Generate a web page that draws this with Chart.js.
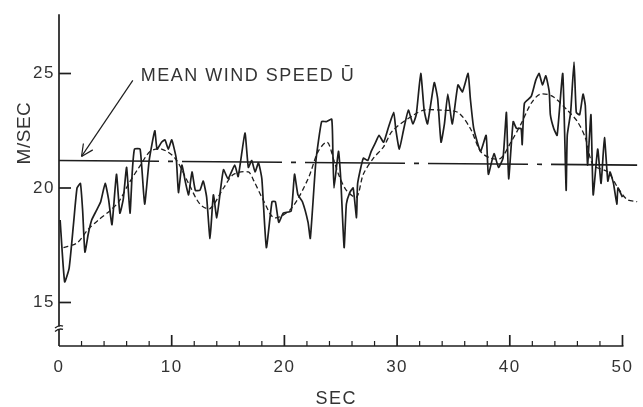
<!DOCTYPE html>
<html><head><meta charset="utf-8">
<script src="https://cdn.jsdelivr.net/npm/chart.js@4.4.1/dist/chart.umd.min.js"></script>
<style>html,body{margin:0;padding:0;background:#fff;}#wrap{width:643px;height:407px;}</style>
</head><body><div id="wrap"><canvas id="c" width="643" height="407"></canvas></div>
<script>
// Measured wind speed (solid line)
const windTime = [0.1,0.5,0.9,1.3,1.6,1.9,2.1,2.3,2.6,2.9,3.3,3.7,4.1,4.4,4.7,5.1,5.4,5.7,6.0,6.3,6.5,6.7,7.2,7.6,8.0,8.5,8.7,9.1,9.4,9.7,10.0,10.4,10.6,10.9,11.2,11.5,11.8,12.1,12.5,12.8,13.1,13.4,13.7,14.0,14.3,14.6,15.0,15.6,15.9,16.5,16.8,17.1,17.4,17.7,18.0,18.4,18.9,19.2,19.5,19.9,20.6,20.9,21.2,21.6,22.1,22.3,22.8,23.3,23.7,24.2,24.3,24.4,24.8,25.0,25.3,25.5,25.8,26.1,26.4,26.5,27.0,27.4,27.7,28.1,28.4,28.8,29.2,29.7,29.9,30.2,30.6,31.0,31.4,31.7,32.1,32.4,32.7,33.3,33.6,33.9,34.2,34.5,34.9,35.4,35.8,36.3,36.5,36.8,37.4,37.9,38.1,38.6,39.0,39.4,39.7,39.9,40.3,40.6,41.0,41.1,41.3,41.9,42.3,42.6,42.9,43.2,43.5,43.6,43.9,44.2,44.7,45.0,45.1,45.4,45.7,45.9,46.2,46.5,46.7,46.9,47.2,47.4,47.8,48.1,48.4,48.7,48.9,49.2,49.5,49.6,50.0];
const windSpeed = [18.6,15.9,16.5,18.5,20.0,20.2,19.0,17.2,18.0,18.6,19.0,19.4,20.2,19.5,18.4,20.6,18.9,19.5,20.9,18.9,20.7,21.7,21.7,19.3,21.2,22.5,21.7,22.0,22.1,21.7,22.1,21.3,19.8,21.0,20.3,19.7,20.7,19.9,19.9,20.3,19.6,17.8,19.7,18.7,19.8,20.8,20.4,21.0,20.5,22.4,20.9,21.2,20.7,21.1,20.4,17.4,19.4,19.4,18.5,18.9,19.0,20.6,19.7,19.4,18.5,17.8,21.2,22.9,22.9,23.0,21.6,20.0,21.6,20.4,17.4,19.3,19.8,20.0,18.7,20.2,21.3,21.2,21.6,22.0,22.3,22.0,22.6,23.3,22.5,21.7,22.6,23.4,22.8,23.2,25.0,23.4,22.8,24.6,23.9,22.0,22.8,24.1,22.8,24.5,24.2,25.0,23.9,22.6,21.6,22.3,20.6,21.5,20.9,21.3,23.3,20.4,22.9,22.6,22.6,21.9,23.7,24.0,24.7,25.0,24.5,24.9,24.2,23.2,22.6,22.3,25.0,19.9,22.3,23.3,25.5,23.3,23.2,24.1,23.6,21.0,23.2,19.7,21.7,20.2,22.2,20.3,20.7,20.2,19.3,20.0,19.6];
// Smoothed wind speed (dashed line)
const smoothTime = [0.4,1.6,2.6,3.5,4.5,5.3,6.2,7.1,8.1,9.1,10.3,11.5,12.5,13.4,14.6,15.5,16.8,17.3,18.1,19.1,20.6,22.1,23.0,23.8,24.4,24.8,25.5,26.4,27.0,27.9,28.8,29.6,31.5,32.4,33.9,35.4,36.5,37.4,38.3,39.2,40.1,41.0,41.9,42.7,43.8,45.1,46.0,46.7,47.4,48.7,49.6,50.4,51.3];
const smoothSpeed = [17.4,17.6,18.2,18.6,19.0,19.4,20.2,20.9,21.6,21.7,21.3,20.2,19.3,19.1,20.0,20.6,20.7,20.3,19.5,18.7,19.1,20.4,21.6,22.0,21.2,20.6,19.9,19.6,20.6,21.3,21.8,22.5,23.2,23.4,23.4,23.3,22.6,21.6,21.3,21.3,22.0,22.8,23.7,24.1,24.0,23.4,22.9,22.2,21.0,20.7,20.0,19.5,19.4];
// Mean wind speed line (as drawn)
const meanTime = [0, 51.3];
const meanSpeed = [21.2, 21.0];
// Ticks
const xTickValues = [0, 10, 20, 30, 40, 50];
const xMinorValues = [2,4,6,8,12,14,16,18,22,24,26,28,32,34,36,38,42,44,46,48];
const yTickValues = [15, 20, 25];
const xTitle = 'SEC';
const yTitle = 'M/SEC';
const annotationText = 'MEAN WIND SPEED \u016A';

if (windTime.length !== windSpeed.length || smoothTime.length !== smoothSpeed.length) {
  throw new Error('length mismatch ' + windTime.length + ' ' + windSpeed.length);
}
const pts = (xs, ys) => xs.map((t, i) => ({x: t, y: ys[i]}));
const INK = '#1e1e1e';
const FONT = '"Liberation Sans", Arial, sans-serif';

function seg(ctx, ax, ay, bx, by) { ctx.beginPath(); ctx.moveTo(ax, ay); ctx.lineTo(bx, by); ctx.stroke(); }

const decor = {
  id: 'decor',
  beforeDraw(chart) { chart.ctx.letterSpacing = '1.5px'; },
  afterDraw(chart) {
    const {ctx, scales: {x, y}} = chart;
    ctx.save();
    ctx.setLineDash([]);
    ctx.strokeStyle = INK; ctx.fillStyle = INK; ctx.lineWidth = 1.7; ctx.lineCap = 'butt';
    const x0 = x.getPixelForValue(0);
    const yb = y.getPixelForValue(y.min), yt = y.getPixelForValue(y.max);
    const brkA = y.getPixelForValue(13.95), brkB = y.getPixelForValue(13.8);
    seg(ctx, x0, yt, x0, brkA);
    seg(ctx, x0, brkB, x0, yb);
    seg(ctx, x0, yb, x.getPixelForValue(50) + 1, yb);
    // break marks
    ctx.lineWidth = 1.3;
    [brkA, brkB].forEach(p => { ctx.beginPath(); ctx.moveTo(x0 - 4, p + 1.5); ctx.quadraticCurveTo(x0, p - 2, x0 + 4, p - 0.5); ctx.stroke(); });
    // y ticks (pointing inward)
    ctx.lineWidth = 1.7;
    for (const v of yTickValues) { const p = y.getPixelForValue(v); seg(ctx, x0, p, x0 + 12, p); }
    // x ticks
    for (const v of xTickValues) { if (v === 0) continue; const p = x.getPixelForValue(v); seg(ctx, p, yb, p, yb - 11); }
    ctx.lineWidth = 1.2;
    for (const v of xMinorValues) { const p = x.getPixelForValue(v); seg(ctx, p, yb, p, yb - 5); }
    // arrow
    const tail = {x: x.getPixelForValue(6.55), y: y.getPixelForValue(24.7)};
    const tip = {x: x.getPixelForValue(2.0), y: y.getPixelForValue(21.38)};
    ctx.lineWidth = 1.2;
    seg(ctx, tail.x, tail.y, tip.x, tip.y);
    const ang = Math.atan2(tip.y - tail.y, tip.x - tail.x);
    [0.45, -0.45].forEach(d => seg(ctx, tip.x, tip.y, tip.x - 13 * Math.cos(ang + d), tip.y - 13 * Math.sin(ang + d)));
    // texts
    ctx.fillStyle = '#333';
    ctx.letterSpacing = '1.5px';
    ctx.font = '18px ' + FONT;
    ctx.textAlign = 'left'; ctx.textBaseline = 'alphabetic';
    ctx.fillText(annotationText, x.getPixelForValue(7.25), y.getPixelForValue(24.66));
    ctx.textAlign = 'center'; ctx.textBaseline = 'middle';
    ctx.fillText(xTitle, x.getPixelForValue(24.6), 399);
    ctx.save();
    ctx.translate(x0 - 34, y.getPixelForValue(22.4));
    ctx.rotate(-Math.PI / 2);
    ctx.letterSpacing = '0.5px';
    ctx.font = '19px ' + FONT;
    ctx.fillText(yTitle, 0, 0);
    ctx.restore();
    ctx.restore();
    ctx.letterSpacing = '0px';
  }
};

new Chart(document.getElementById('c'), {
  type: 'line',
  data: {
    datasets: [
      {data: pts(windTime, windSpeed), borderColor: INK, borderWidth: 1.7, pointRadius: 0, tension: 0.15, fill: false},
      {data: pts(smoothTime, smoothSpeed), borderColor: INK, borderWidth: 1.3, borderDash: [5, 3], pointRadius: 0, tension: 0.3, fill: false},
      {data: pts(meanTime, meanSpeed), borderColor: INK, borderWidth: 1.6, borderDash: [100, 9, 5, 9], pointRadius: 0, tension: 0, fill: false}
    ]
  },
  options: {
    responsive: false, animation: false, devicePixelRatio: 1,
    layout: {padding: {top: 10, right: 2, left: 0, bottom: 0}},
    plugins: {legend: {display: false}, tooltip: {enabled: false}},
    scales: {
      x: {
        type: 'linear', min: 0, max: 51.5,
        afterBuildTicks: s => { s.ticks = xTickValues.map(v => ({value: v})); },
        afterFit: s => { s.height = 61; },
        grid: {display: false, drawTicks: false}, border: {display: false},
        ticks: {color: '#333', font: {family: FONT, size: 17}, padding: 11, maxRotation: 0, autoSkip: false}
      },
      y: {
        type: 'linear', min: 13.1, max: 27.59,
        afterBuildTicks: s => { s.ticks = yTickValues.map(v => ({value: v})); },
        afterFit: s => { s.width = 59; },
        grid: {display: false, drawTicks: false}, border: {display: false},
        ticks: {color: '#333', font: {family: FONT, size: 17}, padding: 4, autoSkip: false}
      }
    }
  },
  plugins: [decor]
});
</script></body></html>
